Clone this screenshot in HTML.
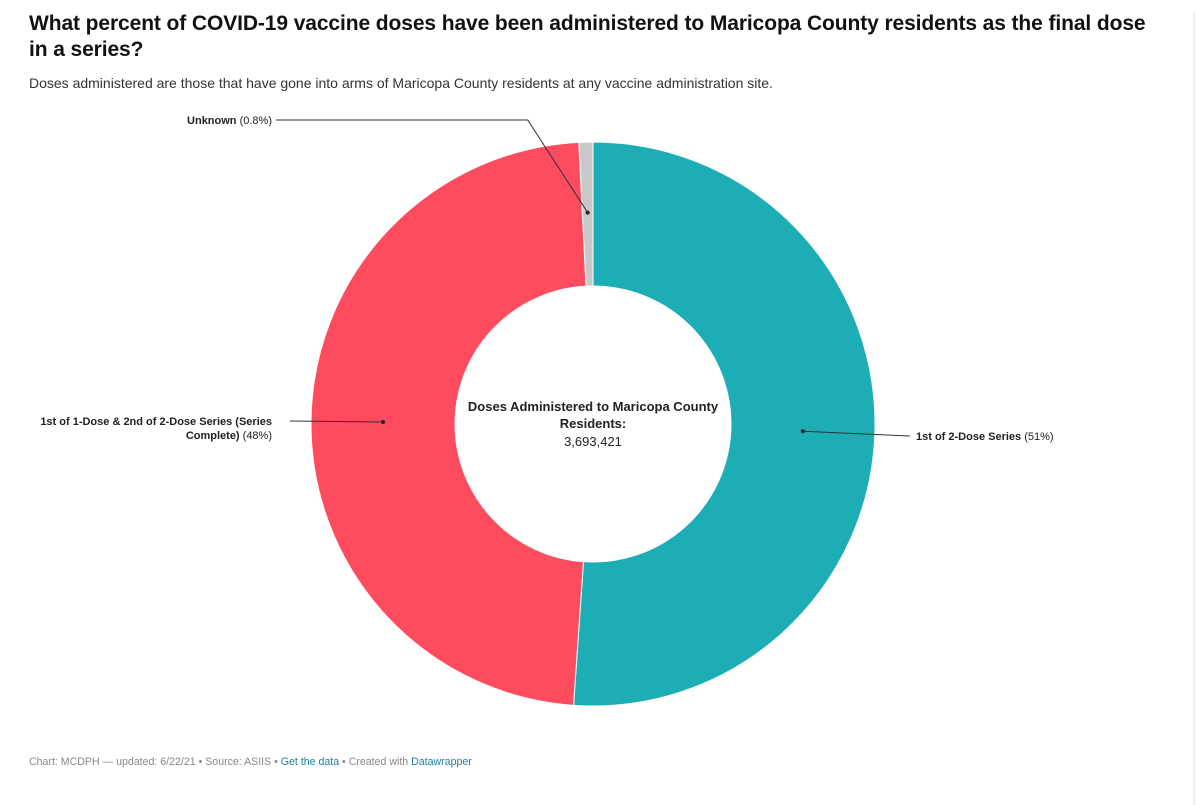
<!DOCTYPE html>
<html><head><meta charset="utf-8">
<style>
body{margin:0;width:1198px;height:805px;background:#fff;font-family:"Liberation Sans",sans-serif;position:relative;overflow:hidden}
#title{position:absolute;left:29px;top:11px;width:1120px;font-size:21px;font-weight:bold;line-height:26px;color:#111;letter-spacing:-0.1px}
#sub{position:absolute;left:29px;top:75px;font-size:14px;color:#333}
#foot{position:absolute;left:29px;top:756px;font-size:10.6px;color:#888}
#foot a{color:#1d81a2;text-decoration:none}
#edge{position:absolute;left:1193px;top:13px;width:2px;height:792px;background:#eee}
</style></head><body>
<div id="title">What percent of COVID-19 vaccine doses have been administered to Maricopa County residents as the final dose in a series?</div>
<div id="sub">Doses administered are those that have gone into arms of Maricopa County residents at any vaccine administration site.</div>
<div id="edge"></div>
<svg id="chart" width="1198" height="805" style="position:absolute;left:0;top:0" font-family="Liberation Sans, sans-serif"></svg>
<div id="foot">Chart: MCDPH — updated: 6/22/21 • Source: ASIIS • <a href="#">Get the data</a> • Created with <a href="#">Datawrapper</a></div>
<script>
const categories=["1st of 2-Dose Series","1st of 1-Dose & 2nd of 2-Dose Series (Series Complete)","Unknown"];
const values=[51.1,48.1,0.8];
const labels=["51%","48%","0.8%"];
const colors=["#1daeb5","#fe4b5e","#c8c8c8"];
const svg=document.getElementById('chart');
const NS="http://www.w3.org/2000/svg";
const cx=593,cy=424,R=282,r=138;
const total=values.reduce((a,b)=>a+b,0);
function pt(a,rad){return [cx+rad*Math.sin(a),cy-rad*Math.cos(a)];}
let a0=0;
const mids=[];
values.forEach((v,i)=>{
  const a1=a0+v/total*2*Math.PI;
  const large=(a1-a0)>Math.PI?1:0;
  const p1=pt(a0,R),p2=pt(a1,R),p3=pt(a1,r),p4=pt(a0,r);
  const p=document.createElementNS(NS,'path');
  p.setAttribute('d',`M${p1}A${R},${R} 0 ${large} 1 ${p2}L${p3}A${r},${r} 0 ${large} 0 ${p4}Z`);
  p.setAttribute('fill',colors[i]);p.setAttribute('stroke','#fff');p.setAttribute('stroke-width','1');
  
  
  svg.appendChild(p);
  mids.push((a0+a1)/2);
  a0=a1;
});
function el(tag,attrs,txt){const e=document.createElementNS(NS,tag);for(const k in attrs)e.setAttribute(k,attrs[k]);if(txt)e.textContent=txt;svg.appendChild(e);return e;}
const lineEnds=[[910,436],[290,421],[276,120]];
values.forEach((v,i)=>{
  const rr=i==2?(R*0.75):(R+r)/2;
  const m=pt(mids[i],rr);
  let pts=`${m[0]},${m[1]} ${lineEnds[i][0]},${lineEnds[i][1]}`;
  if(i==2) pts=`${m[0]},${m[1]} ${m[0]-60},${lineEnds[i][1]} ${lineEnds[i][0]},${lineEnds[i][1]}`;
  const l=el('polyline',{points:pts,fill:'none',stroke:'#333','stroke-width':1});
  
  
  const d=el('circle',{cx:m[0],cy:m[1],r:2,fill:'#222'});
  
  
});
function lab(x,y,anchor,bold,norm,name){
  const t=el('text',{x:x,y:y,'text-anchor':anchor,'font-size':11,fill:'#222'});
  
  
  const b=document.createElementNS(NS,'tspan');b.setAttribute('font-weight','bold');b.textContent=bold;t.appendChild(b);
  const n=document.createElementNS(NS,'tspan');n.textContent=norm;t.appendChild(n);
}
lab(916,440,'start',categories[0],' ('+labels[0]+')','label-first-of-two');
lab(272,425,'end','1st of 1-Dose & 2nd of 2-Dose Series (Series','','label-series-complete');
lab(272,439,'end','Complete)',' ('+labels[1]+')','label-series-complete-2');
lab(272,124,'end',categories[2],' ('+labels[2]+')','label-unknown');
const c1=el('text',{x:593,y:411,'text-anchor':'middle','font-size':13,'font-weight':'bold',fill:'#222'},'Doses Administered to Maricopa County');


const c2=el('text',{x:593,y:428,'text-anchor':'middle','font-size':13,'font-weight':'bold',fill:'#222'},'Residents:');


const c3=el('text',{x:593,y:446,'text-anchor':'middle','font-size':13,fill:'#222'},'3,693,421');


</script>
</body></html>
